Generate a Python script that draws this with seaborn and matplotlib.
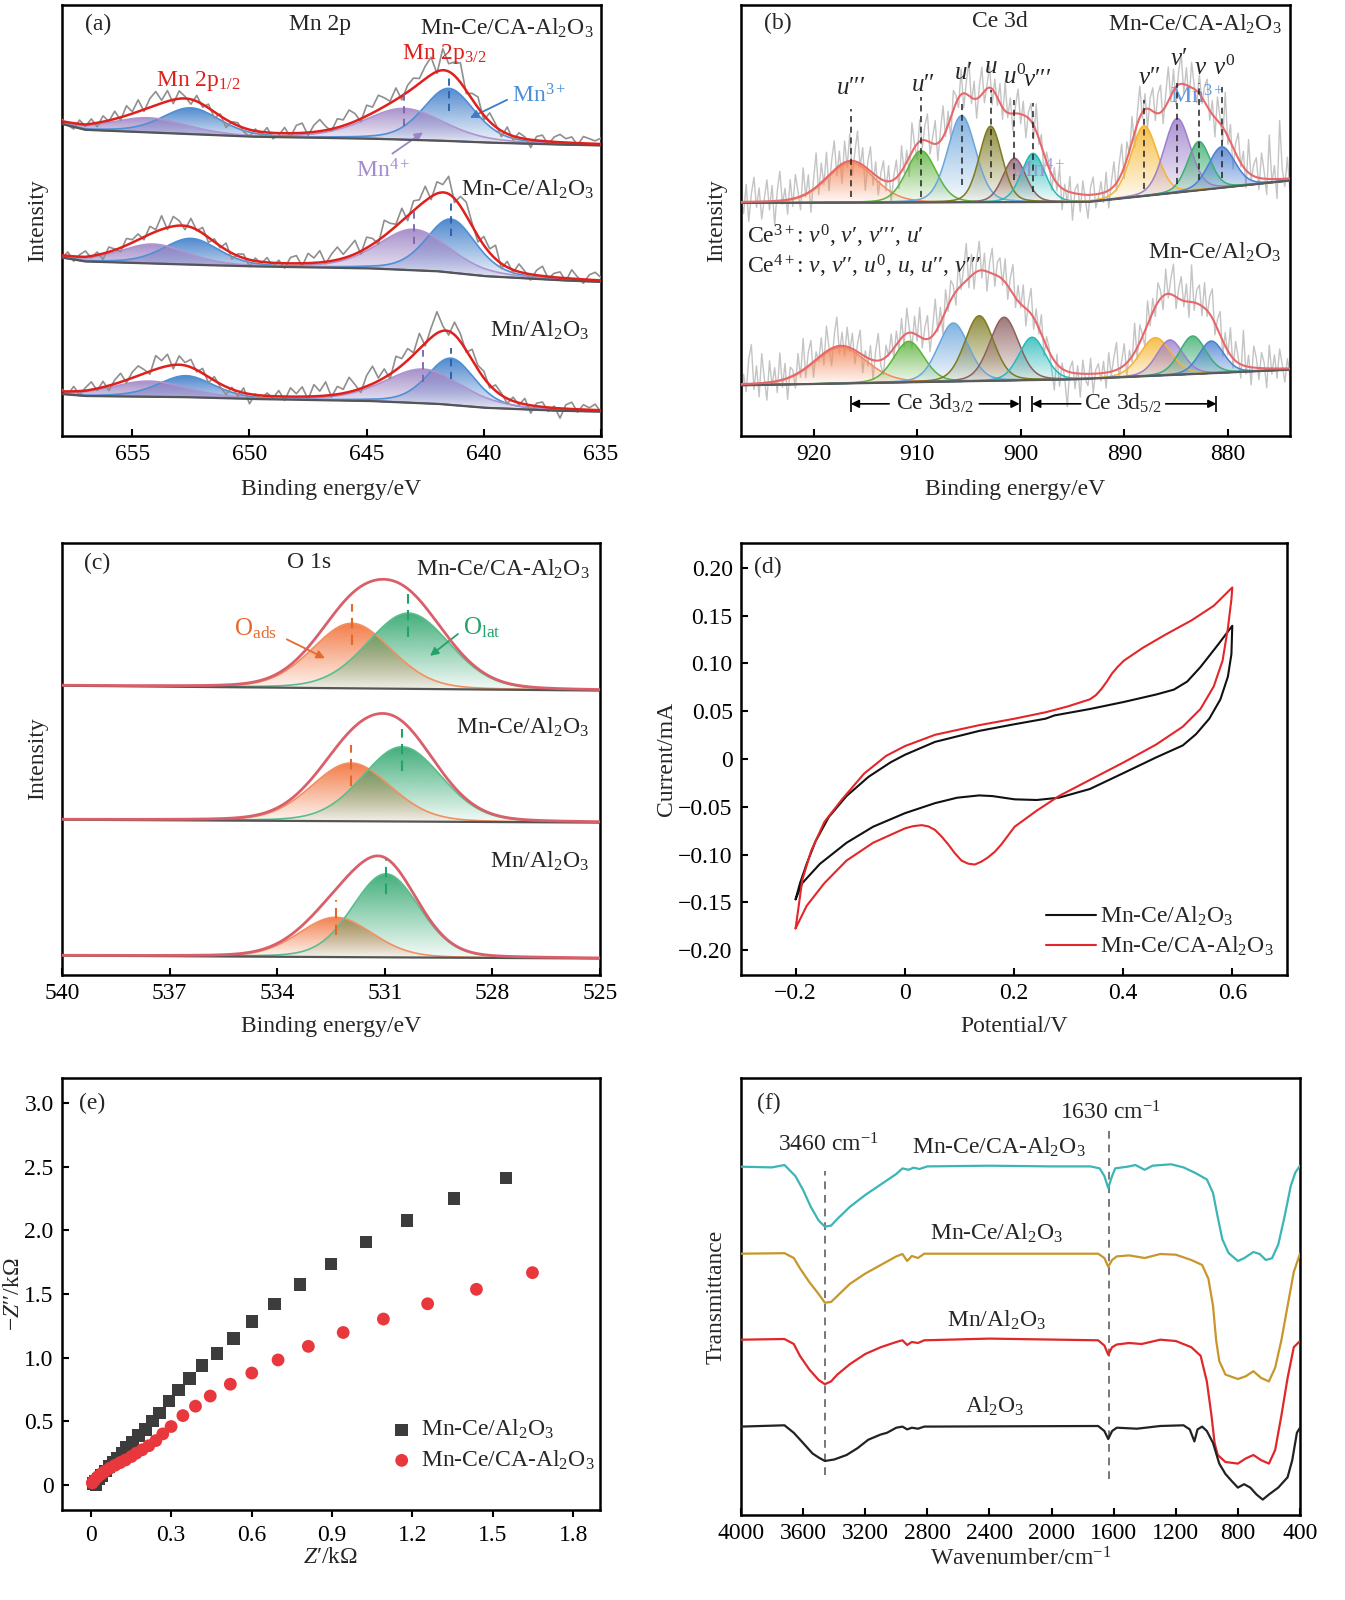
import matplotlib
matplotlib.use("Agg")
import matplotlib.pyplot as plt
import numpy as np
import seaborn as sns
from matplotlib.colors import to_rgb

# ---------------- (a) Mn 2p ----------------
MN_LABELS = ["Mn-Ce/CA-Al$_2$O$_3$", "Mn-Ce/Al$_2$O$_3$", "Mn/Al$_2$O$_3$"]
MN_BASE_E = [635, 637, 640, 642, 645, 650, 653, 657, 658]
MN_BASE_TOP = [298, 299, 301, 303, 305, 307, 310, 314, 320]
MN_BASE_MID = [158, 160, 164, 169, 172, 174, 176, 179, 183]
MN_BASE_BOT = [25, 26, 29, 33, 36, 38, 40, 41, 43]
# (centre eV, height, fwhm): Mn3+ 2p3/2, Mn4+ 2p3/2, Mn3+ 2p1/2, Mn4+ 2p1/2
MN_PEAKS_TOP = [(641.5, 54, 2.6), (643.4, 32, 4.0), (652.5, 27, 2.9), (654.3, 15, 3.8)]
MN_PEAKS_MID = [(641.4, 55, 2.5), (643.0, 42, 3.6), (652.5, 27, 2.8), (654.1, 20, 3.4)]
MN_PEAKS_BOT = [(641.4, 48, 2.4), (642.6, 35, 3.9), (652.7, 22, 2.8), (654.3, 16, 3.8)]
MN_COLORS = ["#3d7cc9", "#9d84c4", "#3d7cc9", "#9d84c4"]
MN_LINE_COLORS = ["#4f8fd6", "#ad95d2", "#4f8fd6", "#ad95d2"]
# raw-signal scatter about the fit (658 -> 635 eV, 0.25 eV step)
MN_NOISE_TOP = [2, -3, -6, 4, -2, 5, -4, 6, -1, 8, -3, 10, 2,
                12, -2, 9, 14, 3, 11, -4, 8, 2, -5, 6, -3,
                4, -6, 2, -8, 1, 3, -4, -7, 2, -3, 5, -6,
                -2, 6, -4, 8, 10, -3, 7, 12, 4, -2, 9, 6,
                14, 8, -3, 11, 6, 15, 9, 2, 12, -4, 7, 10,
                5, 13, 18, -2, 22, 8, 14, 20, -3, 6, 11, -5,
                9, 3, -6, 7, -4, 5, 2, -8, 4, 6, -3, 5,
                8, 4, 6, -2, 7, 5, 3, 6]
MN_NOISE_MID = [-3, 4, -5, 2, 6, -2, 3, -6, 5, 1, -4, 7, 3,
                6, -3, 8, 2, 14, -2, 10, 5, -4, 9, -1, 6,
                -5, 3, -2, 7, -6, 2, 4, -7, 3, -2, 5, -4,
                3, -5, 6, 8, -3, 10, 5, 12, -2, 7, 13, 4,
                9, 14, -3, 11, 6, -4, 16, 8, 2, 13, -5, 10,
                6, 15, -3, 12, 8, 18, -4, 10, 14, 3, -6, 9,
                4, 14, -5, 6, -3, 8, 2, -6, 5, 10, -2, 4,
                6, -3, 9, 2, -4, 5, 8, 3]
MN_NOISE_BOT = [2, -3, 5, -4, 3, 8, -2, 6, -5, 4, 9, -3, 6,
                10, 4, -3, 14, 7, 12, -4, 9, 3, 8, -2, 5,
                -6, 4, -3, -8, 2, -5, 5, -10, 1, -4, 3, -2,
                6, -4, 9, 3, 10, -3, 12, 5, 14, -2, 8, 4,
                15, 6, -4, 11, 18, 3, 9, -5, 14, 7, 12, 2,
                16, -3, 10, 22, 5, -4, 13, 8, -2, 11, 4, 7,
                -3, 6, 2, -5, 4, -2, 6, -8, 3, 5, -4, 2,
                -10, 4, 7, -3, 5, 2, 6, -2]

# ---------------- (b) Ce 3d ----------------
CE_BASE_E = [874, 893.5, 927]
CE_BASE_TOP = [262, 240, 239]
CE_BASE_E2 = [874, 895, 927]
CE_BASE_BOT = [68, 58, 52]
CE_PEAKS_TOP = [(916.4, 41, 5.5), (909.6, 53, 3.4), (905.7, 89, 3.2), (902.9, 78, 2.6),
                (900.6, 45, 2.6), (898.8, 50, 2.7), (888.1, 72, 3.0), (884.9, 76, 3.0),
                (882.8, 50, 2.6), (880.6, 42, 3.0)]
CE_HIDDEN_TOP = [(902.0, 18, 10), (884.0, 18, 8)]
CE_PEAKS_BOT = [(917.4, 37, 6.0), (910.8, 42, 3.5), (906.5, 60, 3.5), (904.0, 67, 3.3),
                (901.6, 65, 3.3), (898.9, 44, 3.0), (887.0, 39, 3.5), (885.6, 36, 3.0),
                (883.4, 39, 3.0), (881.6, 33, 2.8)]
CE_HIDDEN_BOT = [(903.0, 13, 10), (884.5, 12, 8)]
CE_COLORS = ["#f4895a", "#5cb33a", "#6aa5dc", "#7d7a20", "#8e6060",
             "#27b9b9", "#f7b42c", "#9d7fcc", "#3fae72", "#4b80d2"]
CE_TAGS = ["$u\u2032\u2032\u2032$", "$u\u2032\u2032$", "$u\u2032$", "$u$", "$u^0$",
           "$v\u2032\u2032\u2032$", "$v\u2032\u2032$", "$v\u2032$", "$v$", "$v^0$"]
CE_TAG_E = [916.4, 909.4, 905.5, 902.9, 900.6, 898.4, 887.6, 884.7, 882.6, 880.4]
CE_TAG_I = [357, 360, 372, 378, 368, 365, 367, 387, 377, 378]
CE_DASH_TOP = [335, 348, 345, 355, 345, 342, 345, 362, 362, 358]
CE_DASH_BOT = [245, 245, 257, 265, 263, 250, 253, 258, 263, 265]
# raw-signal scatter (927 -> 874 eV, 0.25 eV step)
CE_NOISE_TOP = [5, -12, 18, -20, 8, 25, -6, 14, -18, 3, 22, -9, 16, -25, 10, 30, -4, 12, -15, 20,
                -8, 24, 6, -14, 28, -3, 18, -22, 9, 35, -10, 20, -5, 26, -16, 12, 30, -8, 15, -20,
                22, -6, 28, -15, 10, 32, -4, 18, -24, 8, 25, -12, 14, -18, 6, 20, -10, 16, -22, 4,
                18, -14, 26, -6, 12, -20, 30, 4, -16, 22, -8, 15, 28, -12, 6, 24, -18, 10, 32, -5,
                14, -22, 20, 8, -10, 26, -15, 12, 35, -6, 18, -20, 10, 28, -12, 4, 22, -16, 14, -8,
                20, -12, 30, -5, 16, -18, 8, 25, -10, 14, -22, 6, 18, -14, 28, -6, 12, -20, 10, 4,
                -16, 12, -8, 20, -22, 6, -12, 16, -28, 4, 10, -18, 14, -6, -24, 8, 18, -14, -4, 12,
                -10, 20, -18, 6, 25, -8, 14, 30, -12, 18, -4, 26, -15, 10, 32, -6, 16, -20, 12, 24,
                -8, 20, 28, -14, 12, 35, -6, 22, -18, 14, 30, -10, 18, -16, 26, 4, -12, 20, -6, 16,
                28, -10, 14, -20, 24, 6, -14, 40, -8, 18, -22, 10, 26, -4, 16, -18, 34, -6, 12, 20,
                -12, 26, 8, -16, 45, -4, 14, -20, 60, 10, -8, 22, -14]
CE_NOISE_BOT = [-20, 10, -8, 26, 40, -6, 18, -14, 30, 5, -18, 22, -4, 14, -12, 28, -8, 16, -22, 10,
                6, -14, 20, -6, 32, -10, 14, 24, -16, 8, -4, 18, -12, 26, 2, -18, 12, 30, -8, 14,
                -10, 20, -4, 16, -14, 8, 24, -18, 6, -8, 14, -20, 10, 28, -6, -16, 12, -2, 18, -10,
                14, -8, 20, -12, 26, 4, -16, 18, -6, 30, -10, 12, 24, -14, 8, 34, -4, 16, -18, 22,
                -6, 20, 10, -14, 28, -4, 16, 38, -10, 22, -16, 12, 30, -8, 18, -20, 10, 26, -12, 14,
                20, -6, 24, -14, 12, 30, -10, 16, -4, 22, -18, 8, 26, -12, 14, -6, 20, -16, 10, 4,
                -14, -30, 10, -20, 6, -8, -36, 4, 12, -16, 8, -24, 14, -6, -12, 16, -20, 4, 10, -8,
                12, -16, 20, -4, 14, 28, -10, 6, 22, -14, 10, -6, 30, -12, 18, 2, -16, 24, -8, 14,
                -10, 20, 8, -14, 26, -4, 16, 32, -12, 10, 24, -6, 18, -16, 38, -8, 14, 20, -10, 26,
                -6, 18, 30, -12, 10, 24, -16, 14, -4, 28, -10, 20, 6, -14, 36, -8, 12, -18, 22, 10,
                -12, 16, 6, -20, 24, -6, 14, -10, 20, 4, -14, 10, -6]

# ---------------- (c) O 1s ----------------
O_BASE_E = [525, 540]
O_BASE_TOP = [293, 298]
O_BASE_MID = [157, 160]
O_BASE_BOT = [17, 20]
O_PEAKS_TOP = [(531.92, 67, 2.6), (530.34, 78, 2.7)]
O_PEAKS_MID = [(531.94, 60, 2.6), (530.52, 77, 2.6)]
O_PEAKS_BOT = [(532.37, 41, 2.4), (530.97, 86, 2.2)]
O_DASH = [[(531.92, 340, 382), (530.34, 348, 392)],
          [(531.94, 195, 237), (530.52, 210, 253)],
          [(532.37, 41, 77), (530.97, 83, 119)]]

# ---------------- (d) CV ----------------
CV_A_V = [-0.2, -0.1919, -0.1797, -0.1635, -0.1392, -0.1068, -0.0663, -0.0258, 0.0002, 0.0553,
          0.1363, 0.2011, 0.2579, 0.2741, 0.3389, 0.4013, 0.4605, 0.4929, 0.5172, 0.5415, 0.5739,
          0.5998, 0.5982, 0.5917, 0.5780, 0.5577, 0.5334, 0.5091, 0.4605, 0.4013, 0.3389, 0.2822,
          0.2417, 0.2011, 0.1606, 0.1363, 0.0958, 0.0553, 0.0002, -0.0582, -0.1068, -0.1554,
          -0.1878, -0.2]
CV_A_I = [-0.1468, -0.1299, -0.1097, -0.0861, -0.0607, -0.0388, -0.0186, -0.0034, 0.0044, 0.0179,
          0.0294, 0.0364, 0.0422, 0.0456, 0.0523, 0.0597, 0.0675, 0.0726, 0.0810, 0.0962, 0.1198,
          0.1394, 0.1097, 0.0861, 0.0624, 0.0422, 0.0260, 0.0142, 0.0017, -0.0145, -0.0314, -0.0405,
          -0.0429, -0.0422, -0.0388, -0.0381, -0.0405, -0.0462, -0.0567, -0.0709, -0.0877, -0.1097,
          -0.1299, -0.1468]
CV_B_V = [-0.2, -0.1959, -0.1878, -0.1716, -0.1473, -0.1149, -0.0744, -0.0339, 0.0002, 0.0553,
          0.1363, 0.2011, 0.2579, 0.2984, 0.3389, 0.35, 0.3592, 0.37, 0.3794, 0.39, 0.4013, 0.4361,
          0.4767, 0.5253, 0.5658, 0.5998, 0.5982, 0.5917, 0.5820, 0.5658, 0.5415, 0.5091, 0.4605,
          0.4013, 0.3389, 0.2822, 0.2417, 0.2011, 0.1768, 0.165, 0.1525, 0.14, 0.1282, 0.116,
          0.1039, 0.0915, 0.0796, 0.0675, 0.0553, 0.043, 0.0310, 0.015, 0.0002, -0.0582, -0.1068,
          -0.1473, -0.1797, -0.2]
CV_B_I = [-0.1772, -0.1603, -0.1266, -0.0962, -0.0658, -0.0422, -0.0152, 0.0034, 0.0135, 0.0253,
          0.0354, 0.0422, 0.0489, 0.0550, 0.0624, 0.0668, 0.0726, 0.0810, 0.0894, 0.0965, 0.1029,
          0.1164, 0.1299, 0.1451, 0.1603, 0.1795, 0.1671, 0.1367, 0.1029, 0.0759, 0.0523, 0.0338,
          0.0152, -0.0034, -0.0219, -0.0388, -0.0540, -0.0709, -0.0894, -0.0970, -0.1029, -0.1075,
          -0.1104, -0.1095, -0.1063, -0.0985, -0.0894, -0.0812, -0.0742, -0.0705, -0.0692, -0.0703,
          -0.0726, -0.0877, -0.1063, -0.1299, -0.1536, -0.1772]

# ---------------- (e) EIS ----------------
EIS_A_X = [1.550, 1.355, 1.179, 1.026, 0.896, 0.780, 0.685, 0.602, 0.532, 0.471, 0.416, 0.368,
           0.328, 0.292, 0.257, 0.231, 0.204, 0.178, 0.156, 0.134, 0.116, 0.098, 0.084, 0.069,
           0.055, 0.040, 0.029, 0.017, 0.009, 0.020]
EIS_A_Y = [2.415, 2.253, 2.080, 1.907, 1.737, 1.574, 1.423, 1.282, 1.149, 1.032, 0.936, 0.835,
           0.745, 0.660, 0.564, 0.500, 0.434, 0.386, 0.332, 0.293, 0.247, 0.205, 0.173, 0.141,
           0.106, 0.072, 0.045, 0.024, 0.008, 0.0]
EIS_B_X = [1.648, 1.439, 1.257, 1.092, 0.942, 0.812, 0.699, 0.601, 0.521, 0.446, 0.391, 0.344,
           0.300, 0.269, 0.243, 0.217, 0.192, 0.170, 0.152, 0.130, 0.110, 0.091, 0.072, 0.055,
           0.040, 0.026, 0.014, 0.006]
EIS_B_Y = [1.668, 1.537, 1.423, 1.303, 1.197, 1.088, 0.981, 0.878, 0.790, 0.697, 0.617, 0.543,
           0.457, 0.399, 0.346, 0.306, 0.274, 0.247, 0.221, 0.194, 0.173, 0.152, 0.130, 0.106,
           0.085, 0.061, 0.035, 0.013]

# ---------------- (f) FTIR ----------------
FT_CA_WN = [4000, 3800, 3720, 3650, 3600, 3550, 3500, 3460, 3420, 3380, 3300, 3200, 3100, 3000,
            2960, 2920, 2890, 2850, 2800, 2400, 2000, 1750, 1690, 1660, 1635, 1610, 1590, 1500,
            1460, 1400, 1350, 1230, 1150, 1080, 1000, 960, 930, 900, 860, 800, 760, 700, 660,
            620, 580, 540, 500, 460, 430, 400]
FT_CA_T = [348.3, 347.6, 350, 339, 325, 308, 294.5, 288.4, 289.4, 296, 308, 320, 330.5, 341,
           346.6, 345.2, 347.3, 346, 348.6, 349.3, 348.6, 348.6, 346.6, 339, 327, 339, 346.6, 348.6,
           350, 345.2, 349.3, 350.7, 347.6, 342.5, 335.6, 322, 298, 275.7, 262, 254, 256.8, 263, 261,
           255, 256.8, 270.5, 298, 328.8, 342.5, 349.3]
FT_MC_WN = [4000, 3720, 3660, 3620, 3560, 3500, 3460, 3420, 3380, 3300, 3200, 3100, 3000, 2960,
            2930, 2900, 2860, 2820, 1700, 1660, 1635, 1610, 1580, 1500, 1400, 1300, 1200, 1100,
            1030, 990, 960, 940, 920, 880, 800, 750, 700, 650, 600, 560, 520, 480, 440, 400]
FT_MC_T = [261.3, 261.8, 257, 246.6, 232.9, 221, 212.3, 213, 219, 231, 241.4, 250, 258.6, 261,
           254, 259, 257, 261.3, 261.3, 257, 248.3, 255, 258.6, 259.6, 257, 261, 260.3, 255,
           250, 236.3, 209, 174.7, 154, 140.4, 136, 138.7, 143.8, 137, 133.6, 147.3, 174.7, 209, 243, 261.3]
FT_MN_WN = [4000, 3720, 3660, 3620, 3560, 3500, 3460, 3420, 3380, 3300, 3200, 3100, 3000, 2960,
            2930, 2900, 2860, 2820, 2400, 1700, 1660, 1635, 1610, 1580, 1500, 1420, 1300, 1200,
            1100, 1040, 1000, 970, 950, 930, 880, 800, 750, 700, 650, 600, 560, 520, 480, 440, 400]
FT_MN_T = [175.3, 176, 171, 159, 145.5, 135, 130.8, 133.6, 140.4, 150.7, 161, 167.8, 173, 174.7,
           170, 173, 172, 174.7, 176.4, 174.7, 169.5, 160.3, 167.8, 170.5, 172, 171, 175.3, 174,
           167.8, 159.2, 133.6, 99.3, 72, 60, 53, 51.4, 56.5, 60, 54.8, 51.4, 65, 99.3, 137, 167.8, 174]
FT_AL_WN = [4000, 3720, 3660, 3600, 3540, 3500, 3460, 3400, 3320, 3250, 3180, 3100, 3060, 3000,
            2960, 2930, 2900, 2860, 2820, 1700, 1660, 1635, 1610, 1580, 1450, 1300, 1150, 1110,
            1080, 1060, 1030, 1000, 960, 920, 880, 840, 800, 760, 720, 680, 640, 600, 540, 480,
            450, 420, 400]
FT_AL_T = [88.4, 89.7, 82.2, 72, 61.6, 57.5, 54, 55.5, 60, 66.8, 75.3, 80.5, 82.2, 87.3,
           88.4, 85.6, 87.3, 86.3, 88.4, 89, 84, 76, 84, 87.3, 86.3, 89, 89.7, 85.6,
           73.6, 85.6, 88.4, 84, 72, 51.4, 41, 34, 27.4, 30.8, 27.4, 20.5, 15.4, 20.5, 27.4, 37.7,
           54.8, 82.2, 87.3]


def pvoigt(x, c, h, w, eta):
    d = (x - c) / w
    return h * ((1 - eta) * np.exp(-4 * np.log(2) * d ** 2) + eta / (1 + 4 * d ** 2))


def line(ax, x, y, color, lw, z, **kw):
    sns.lineplot(x=np.asarray(x), y=np.asarray(y), ax=ax, color=color, linewidth=lw,
                 zorder=z, estimator=None, sort=False, **kw)


def gradient_peak(ax, x, base, top, color, alpha_top, z):
    poly = ax.fill_between(x, base, top, facecolor="none", edgecolor="none")
    grad = np.zeros((256, 1, 4))
    grad[..., :3] = to_rgb(color)
    grad[:, 0, 3] = np.linspace(0.04, alpha_top, 256)
    im = ax.imshow(grad, extent=[x.min(), x.max(), base.min(), top.max()], origin="lower",
                   aspect="auto", interpolation="bilinear", zorder=z)
    im.set_clip_path(poly.get_paths()[0], transform=ax.transData)


def draw_fit(ax, x, base, peaks, colors, line_colors, eta, alpha_top, lw=1.2, z=2):
    total = np.zeros_like(x)
    for (c, h, w), col, lcol in zip(peaks, colors, line_colors):
        p = pvoigt(x, c, h, w, eta)
        gradient_peak(ax, x, base, base + p, col, alpha_top, z)
        line(ax, x, base + p, lcol, lw, z + 0.5)
        total += p
    return total


def style(ax):
    for s in ax.spines.values():
        s.set_linewidth(1.8)
        s.set_color("black")
    ax.tick_params(direction="in", length=5, width=1.5, labelsize=FS, pad=6, colors="black")


sns.set_theme(style="ticks")
plt.rcParams.update({
    "font.family": ["Liberation Serif", "DejaVu Serif"],
    "mathtext.fontset": "custom",
    "mathtext.rm": "Liberation Serif",
    "mathtext.it": "Liberation Serif:italic",
    "mathtext.bf": "Liberation Serif:bold",
    "axes.unicode_minus": True,
})
FS = 17

fig = plt.figure(figsize=(13.45, 16), dpi=100)
W, H = 1345, 1600


def add_ax(l, t, r, b):
    return fig.add_axes([l / W, 1 - b / H, (r - l) / W, (b - t) / H])


ax_a = add_ax(62, 5, 601, 436)
ax_b = add_ax(741, 5, 1290, 436)
ax_c = add_ax(62, 543, 600, 975)
ax_d = add_ax(741, 543, 1287, 975)
ax_e = add_ax(62, 1078, 600, 1510)
ax_f = add_ax(741, 1078, 1300, 1515)

# ---------- (a) ----------
ax = ax_a
xa = np.linspace(658, 635, 600)
xr = np.linspace(658, 635, len(MN_NOISE_TOP))
for base_i, peaks, noise in [(MN_BASE_TOP, MN_PEAKS_TOP, MN_NOISE_TOP),
                             (MN_BASE_MID, MN_PEAKS_MID, MN_NOISE_MID),
                             (MN_BASE_BOT, MN_PEAKS_BOT, MN_NOISE_BOT)]:
    base = np.interp(xa, MN_BASE_E, base_i)
    total = draw_fit(ax, xa, base, peaks, MN_COLORS, MN_LINE_COLORS, 0.35, 0.9)
    base_r = np.interp(xr, MN_BASE_E, base_i)
    raw = base_r + sum(pvoigt(xr, c, h, w, 0.35) for c, h, w in peaks) + np.array(noise)
    line(ax, xr, raw, "#8f8f8f", 1.2, 2.8)
    line(ax, xa, base, "#555555", 1.6, 4)
    line(ax, xa, base + total, "#e0201c", 1.8, 4.5)
MN_DASH = [[(641.5, 333, 368, "#2a5ca8"), (643.4, 318, 353, "#7a62a8")],
           [(641.4, 205, 240, "#2a5ca8"), (643.0, 197, 232, "#7a62a8")],
           [(641.4, 58, 90, "#2a5ca8"), (642.6, 55, 88, "#7a62a8")]]
for group in MN_DASH:
    for c, lo, hi, col in group:
        ax.vlines(c, lo, hi, colors=col, linestyles=(0, (4, 3)), lw=1.3, zorder=5)
ax.text(657.0, 422, "(a)", fontsize=FS, ha="left", va="center")
ax.text(647.0, 422, "Mn 2p", fontsize=FS, ha="center", va="center")
ax.text(635.3, 418, MN_LABELS[0], fontsize=FS, ha="right", va="center")
ax.text(635.3, 253, MN_LABELS[1], fontsize=FS, ha="right", va="center")
ax.text(635.5, 108, MN_LABELS[2], fontsize=FS, ha="right", va="center")
ax.text(641.7, 392, "Mn 2p$_{3/2}$", fontsize=FS, ha="center", va="center", color="#e0201c")
ax.text(652.2, 364, "Mn 2p$_{1/2}$", fontsize=FS, ha="center", va="center", color="#e0201c")
ax.text(638.8, 349, "Mn$^{3+}$", fontsize=FS, ha="left", va="center", color="#4f8fd6")
ax.annotate("", xy=(640.7, 325), xytext=(638.9, 346),
            arrowprops=dict(arrowstyle="-|>", color="#3d7cc9", lw=1.3, mutation_scale=12))
ax.text(644.3, 272, "Mn$^{4+}$", fontsize=FS, ha="center", va="center", color="#a48ad0")
ax.annotate("", xy=(642.5, 313), xytext=(644.0, 288),
            arrowprops=dict(arrowstyle="-|>", color="#9d84c4", lw=1.3, mutation_scale=12))
ax.set_xlim(658, 635)
ax.set_ylim(0, 442)
ax.set_xticks([655, 650, 645, 640, 635])
ax.set_yticks([])
style(ax)
ax.set_xlabel("Binding energy/eV", fontsize=FS)
ax.set_ylabel("Intensity", fontsize=FS)
ax.xaxis.set_label_coords(0.5, -0.1)
ax.yaxis.set_label_coords(-0.026, 0.5)

# ---------- (b) ----------
ax = ax_b
xb = np.linspace(927, 874, 1200)
xbr = np.linspace(927, 874, len(CE_NOISE_TOP))
for be, bi, peaks, hidden, noise in [(CE_BASE_E, CE_BASE_TOP, CE_PEAKS_TOP, CE_HIDDEN_TOP, CE_NOISE_TOP),
                                     (CE_BASE_E2, CE_BASE_BOT, CE_PEAKS_BOT, CE_HIDDEN_BOT, CE_NOISE_BOT)]:
    base = np.interp(xb, be, bi)
    total = draw_fit(ax, xb, base, peaks, CE_COLORS, CE_COLORS, 0.2, 0.85, lw=1.1)
    total = total + sum(pvoigt(xb, c, h, w, 0.2) for c, h, w in hidden)
    base_r = np.interp(xbr, be, bi)
    raw = base_r + sum(pvoigt(xbr, c, h, w, 0.2) for c, h, w in peaks + hidden) + np.array(noise)
    line(ax, xbr, raw, "#c4c4c4", 1.0, 1)
    line(ax, xb, base, "#5a5a5a", 1.6, 4)
    line(ax, xb, base + total, "#e8676a", 1.5, 4.5)
for c, lo, hi in zip([p[0] for p in CE_PEAKS_TOP], CE_DASH_BOT, CE_DASH_TOP):
    ax.vlines(c, lo, hi, colors="#222222", linestyles=(0, (4, 3)), lw=1.1, zorder=5)
for tag, e, i in zip(CE_TAGS, CE_TAG_E, CE_TAG_I):
    ax.text(e, i, tag, fontsize=FS + 1, ha="center", va="center")
ax.text(898.3, 272, "Mn$^{4+}$", fontsize=FS, ha="center", va="center", color="#a48ad0", alpha=0.9)
ax.text(883.0, 348, "Mn$^{3+}$", fontsize=FS, ha="center", va="center", color="#5b8fd8", alpha=0.9)
ax.text(924.8, 423, "(b)", fontsize=FS, ha="left", va="center")
ax.text(902.0, 425, "Ce 3d", fontsize=FS, ha="center", va="center")
ax.text(874.8, 422, "Mn-Ce/CA-Al$_2$O$_3$", fontsize=FS, ha="right", va="center")
ax.text(874.9, 188, "Mn-Ce/Al$_2$O$_3$", fontsize=FS, ha="right", va="center")
ax.text(926.4, 205, "Ce$^{3+}$: $v^0$, $v\u2032$, $v\u2032\u2032\u2032$, $u\u2032$",
        fontsize=FS, ha="left", va="center")
ax.text(926.4, 174, "Ce$^{4+}$: $v$, $v\u2032\u2032$, $u^0$, $u$, $u\u2032\u2032$, $v\u2032\u2032\u2032$",
        fontsize=FS, ha="left", va="center")
CE_SPANS = [(916.4, 912.7, 904.0, 900.1, 908.3, "Ce 3d$_{3/2}$"),
            (898.9, 894.2, 886.0, 881.1, 890.1, "Ce 3d$_{5/2}$")]
for left, l_in, r_in, right, mid, txt in CE_SPANS:
    ax.annotate("", xy=(left, 33), xytext=(l_in, 33),
                arrowprops=dict(arrowstyle="-|>", color="black", lw=1.2, mutation_scale=12,
                                shrinkA=0, shrinkB=0))
    ax.annotate("", xy=(right, 33), xytext=(r_in, 33),
                arrowprops=dict(arrowstyle="-|>", color="black", lw=1.2, mutation_scale=12,
                                shrinkA=0, shrinkB=0))
    ax.vlines([left, right], 25, 41, colors="black", lw=1.2)
    ax.text(mid, 33, txt, fontsize=FS, ha="center", va="center")
ax.set_xlim(927, 874)
ax.set_ylim(0, 442)
ax.set_xticks([920, 910, 900, 890, 880])
ax.set_yticks([])
style(ax)
ax.set_xlabel("Binding energy/eV", fontsize=FS)
ax.set_ylabel("Intensity", fontsize=FS)
ax.xaxis.set_label_coords(0.5, -0.1)
ax.yaxis.set_label_coords(-0.025, 0.5)

# ---------- (c) ----------
ax = ax_c
xc = np.linspace(540, 525, 600)
O_COLORS = ["#f26f36", "#2ea66d"]
O_LINES = ["#f39062", "#5bbd8e"]
for bi, peaks in [(O_BASE_TOP, O_PEAKS_TOP), (O_BASE_MID, O_PEAKS_MID), (O_BASE_BOT, O_PEAKS_BOT)]:
    base = np.interp(xc, O_BASE_E, bi)
    total = draw_fit(ax, xc, base, peaks, O_COLORS, O_LINES, 0.15, 0.9)
    line(ax, xc, base, "#555555", 1.6, 4)
    line(ax, xc, base + total, "#d9606b", 2.0, 4.5)
for group in O_DASH:
    for (c, lo, hi), col in zip(group, ["#e06a2c", "#22a36a"]):
        ax.vlines(c, lo, hi, colors=col, linestyles=(0, (5, 3)), lw=1.5, zorder=5)
ax.text(534.6, 357, "O$_{\\mathrm{ads}}$", fontsize=FS + 1, ha="center", va="center", color="#e8692e")
ax.annotate("", xy=(532.6, 325), xytext=(533.8, 347),
            arrowprops=dict(arrowstyle="-|>", color="#e8692e", lw=1.3, mutation_scale=12))
ax.text(528.3, 358, "O$_{\\mathrm{lat}}$", fontsize=FS + 1, ha="center", va="center", color="#22a36a")
ax.annotate("", xy=(529.8, 327), xytext=(528.9, 353),
            arrowprops=dict(arrowstyle="-|>", color="#22a36a", lw=1.3, mutation_scale=12))
ax.text(539.4, 424, "(c)", fontsize=FS, ha="left", va="center")
ax.text(533.1, 425, "O 1s", fontsize=FS, ha="center", va="center")
ax.text(525.3, 418, "Mn-Ce/CA-Al$_2$O$_3$", fontsize=FS, ha="right", va="center")
ax.text(525.3, 255, "Mn-Ce/Al$_2$O$_3$", fontsize=FS, ha="right", va="center")
ax.text(525.3, 117, "Mn/Al$_2$O$_3$", fontsize=FS, ha="right", va="center")
ax.set_xlim(540, 525)
ax.set_ylim(0, 445)
ax.set_xticks([540, 537, 534, 531, 528, 525])
ax.set_yticks([])
style(ax)
ax.set_xlabel("Binding energy/eV", fontsize=FS)
ax.set_ylabel("Intensity", fontsize=FS)
ax.xaxis.set_label_coords(0.5, -0.095)
ax.yaxis.set_label_coords(-0.026, 0.5)

# ---------- (d) ----------
ax = ax_d
line(ax, CV_A_V, CV_A_I, "#111111", 1.5, 3, label="Mn-Ce/Al$_2$O$_3$")
line(ax, CV_B_V, CV_B_I, "#e3262a", 1.5, 3, label="Mn-Ce/CA-Al$_2$O$_3$")
ax.set_xlim(-0.3, 0.7)
ax.set_ylim(-0.226, 0.226)
ax.set_xticks([-0.2, 0, 0.2, 0.4, 0.6])
ax.set_xticklabels(["\u22120.2", "0", "0.2", "0.4", "0.6"])
ax.set_yticks([0.2, 0.15, 0.1, 0.05, 0, -0.05, -0.1, -0.15, -0.2])
ax.set_yticklabels(["0.20", "0.15", "0.10", "0.05", "0", "\u22120.05", "\u22120.10", "\u22120.15", "\u22120.20"])
style(ax)
ax.text(-0.276, 0.2, "(d)", fontsize=FS, ha="left", va="center")
ax.legend(loc="lower right", bbox_to_anchor=(1.005, 0.0), frameon=False, fontsize=FS,
          handlelength=2.1, handletextpad=0.15, labelspacing=0.3, borderaxespad=0.3)
ax.set_xlabel("Potential/V", fontsize=FS)
ax.set_ylabel("Current/mA", fontsize=FS)
ax.xaxis.set_label_coords(0.5, -0.095)
ax.yaxis.set_label_coords(-0.118, 0.5)

# ---------- (e) ----------
ax = ax_e
sns.scatterplot(x=EIS_A_X, y=EIS_A_Y, ax=ax, marker="s", s=80, color="#3c3c3c",
                edgecolor="none", label="Mn-Ce/Al$_2$O$_3$", zorder=3)
sns.scatterplot(x=EIS_B_X, y=EIS_B_Y, ax=ax, marker="o", s=85, color="#e8383d",
                edgecolor="none", label="Mn-Ce/CA-Al$_2$O$_3$", zorder=3)
ax.set_xlim(-0.107, 1.9)
ax.set_ylim(-0.2, 3.2)
ax.set_xticks([0, 0.3, 0.6, 0.9, 1.2, 1.5, 1.8])
ax.set_xticklabels(["0", "0.3", "0.6", "0.9", "1.2", "1.5", "1.8"])
ax.set_yticks([0, 0.5, 1.0, 1.5, 2.0, 2.5, 3.0])
ax.set_yticklabels(["0", "0.5", "1.0", "1.5", "2.0", "2.5", "3.0"])
style(ax)
ax.tick_params(axis="x", direction="out")
ax.text(-0.045, 3.0, "(e)", fontsize=FS, ha="left", va="center")
ax.legend(loc="lower right", bbox_to_anchor=(1.02, 0.05), frameon=False, fontsize=FS,
          handlelength=0.8, handletextpad=0.4, labelspacing=0.3, borderaxespad=0.3,
          markerscale=1.0)
ax.set_xlabel("$Z\u2032$/k\u03a9", fontsize=FS)
ax.set_ylabel("\u2212$Z\u2032\u2032$/k\u03a9", fontsize=FS)
ax.xaxis.set_label_coords(0.5, -0.085)
ax.yaxis.set_label_coords(-0.07, 0.5)

# ---------- (f) ----------
ax = ax_f
for wn, t, col in [(FT_CA_WN, FT_CA_T, "#3bb5b5"), (FT_MC_WN, FT_MC_T, "#c8962a"),
                   (FT_MN_WN, FT_MN_T, "#e0272a"), (FT_AL_WN, FT_AL_T, "#222222")]:
    line(ax, wn, t, col, 1.6, 3)
ax.vlines(3460, 40, 344, colors="#777777", linestyles=(0, (4, 3)), lw=1.4, zorder=2)
ax.vlines(1630, 36, 384, colors="#777777", linestyles=(0, (4, 3)), lw=1.4, zorder=2)
ax.text(3440, 370, "3460 cm$^{-1}$", fontsize=FS, ha="center", va="center")
ax.text(1622, 402, "1630 cm$^{-1}$", fontsize=FS, ha="center", va="center")
ax.text(2340, 368, "Mn-Ce/CA-Al$_2$O$_3$", fontsize=FS, ha="center", va="center")
ax.text(2354, 282, "Mn-Ce/Al$_2$O$_3$", fontsize=FS, ha="center", va="center")
ax.text(2354, 195, "Mn/Al$_2$O$_3$", fontsize=FS, ha="center", va="center")
ax.text(2367, 109, "Al$_2$O$_3$", fontsize=FS, ha="center", va="center")
ax.text(3900, 412, "(f)", fontsize=FS, ha="left", va="center")
ax.set_xlim(4000, 400)
ax.set_ylim(0, 437)
ax.set_xticks(list(range(4000, 399, -400)))
ax.set_yticks([])
style(ax)
ax.set_xlabel("Wavenumber/cm$^{-1}$", fontsize=FS)
ax.set_ylabel("Transmittance", fontsize=FS)
ax.xaxis.set_label_coords(0.5, -0.075)
ax.yaxis.set_label_coords(-0.025, 0.5)

fig.savefig("out.png", dpi=100)
